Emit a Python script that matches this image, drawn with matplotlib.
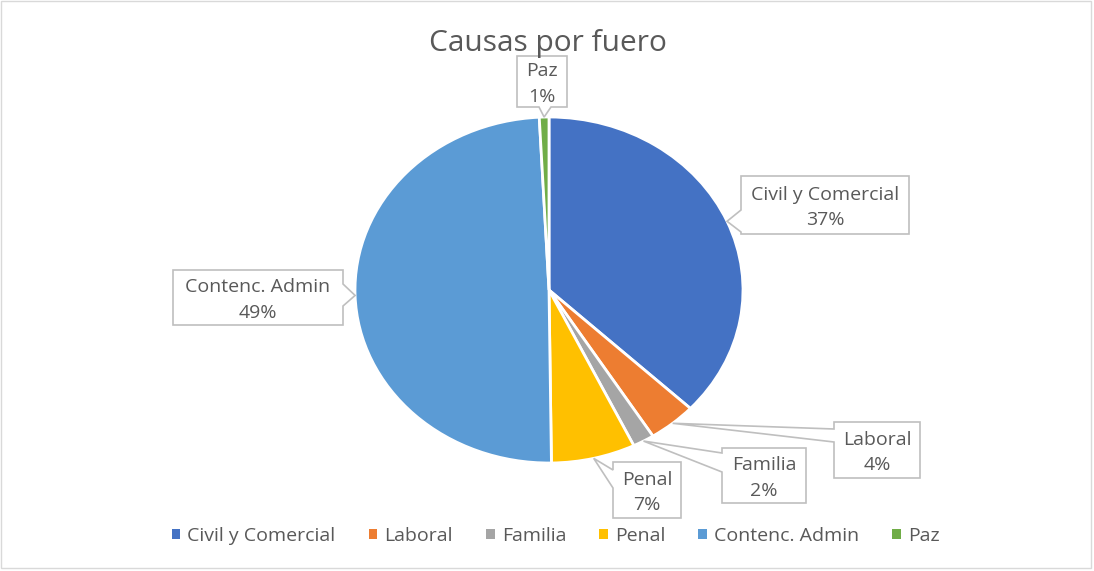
import numpy as np
import matplotlib.pyplot as plt
from matplotlib.patches import Polygon, Rectangle

plt.rcParams['font.family'] = ['Open Sans', 'DejaVu Sans']

categories = ['Civil y Comercial', 'Laboral', 'Familia', 'Penal', 'Contenc. Admin', 'Paz']
shares = [37.0, 4.0, 1.8, 7.0, 49.4, 0.8]
colors = ['#4472C4', '#ED7D31', '#A5A5A5', '#FFC000', '#5B9BD5', '#70AD47']
title = 'Causas por fuero'

W, H = 1094, 571
cx, cy, rx, ry = 549, 290, 194, 173
txt_col = '#595959'
box_col = '#BFBFBF'
fs = 14

fig = plt.figure(figsize=(W / 100, H / 100), dpi=100)

# pie axes (auto aspect -> slightly elliptical like the original screenshot)
ax = fig.add_axes([(cx - rx) / W, 1 - (cy + ry) / H, 2 * rx / W, 2 * ry / H])
wedges, _ = ax.pie(shares, colors=colors, startangle=90, counterclock=False,
                   radius=1, wedgeprops=dict(edgecolor='white', linewidth=2))
ax.set_aspect('auto')
ax.set_xlim(-1, 1)
ax.set_ylim(-1, 1)
ax.axis('off')

# overlay axes in pixel coordinates for labels
ov = fig.add_axes([0, 0, 1, 1], zorder=5)
ov.set_xlim(0, W)
ov.set_ylim(H, 0)
ov.axis('off')
ov.patch.set_alpha(0)

ov.add_patch(Rectangle((1, 1), W - 4, H - 4, fill=False, ec='#D9D9D9', lw=1))
ov.text(548, 43, title, ha='center', va='center', fontsize=21.5, color=txt_col)


def mid_point(w):
    a = np.deg2rad((w.theta1 + w.theta2) / 2)
    return cx + rx * np.cos(a), cy - ry * np.sin(a)


# box (x0, y0, x1, y1), pointer side, pointer base span
boxes = [
    ((741, 176, 909, 234), 'left', (210, 232)),
    ((834, 422, 920, 478), 'left', (429, 442)),
    ((722, 448, 806, 503), 'left', (453, 472)),
    ((613, 462, 681, 518), 'left', (470, 488)),
    ((173, 270, 343, 325), 'right', (284, 306)),
    ((517, 56, 567, 107), 'bottom', (539, 551)),
]

for w, name, val, (box, side, base) in zip(wedges, categories, shares, boxes):
    x0, y0, x1, y1 = box
    tx, ty = mid_point(w)
    if side == 'left':
        pts = [(x0, y0), (x1, y0), (x1, y1), (x0, y1), (x0, base[1]), (tx, ty), (x0, base[0])]
    elif side == 'right':
        pts = [(x0, y0), (x1, y0), (x1, base[0]), (tx, ty), (x1, base[1]), (x1, y1), (x0, y1)]
    else:
        pts = [(x0, y0), (x1, y0), (x1, y1), (base[1], y1), (tx, ty), (base[0], y1), (x0, y1)]
    ov.add_patch(Polygon(pts, closed=True, fc='white', ec=box_col, lw=1.2))
    xm = (x0 + x1) / 2
    ym = (y0 + y1) / 2
    ov.text(xm, ym - 10, name, ha='center', va='center', fontsize=fs, color=txt_col)
    ov.text(xm, ym + 15, f'{round(val):d}%', ha='center', va='center', fontsize=fs, color=txt_col)

leg = fig.legend(wedges, categories, loc='center', bbox_to_anchor=(0.508, 1 - 536 / H),
                 ncol=6, frameon=False, fontsize=fs, handlelength=0.45, handleheight=0.45,
                 handletextpad=0.36, columnspacing=1.7, labelcolor=txt_col)
for h in leg.legend_handles:
    h.set_edgecolor('none')

fig.savefig('out.png', dpi=100)
